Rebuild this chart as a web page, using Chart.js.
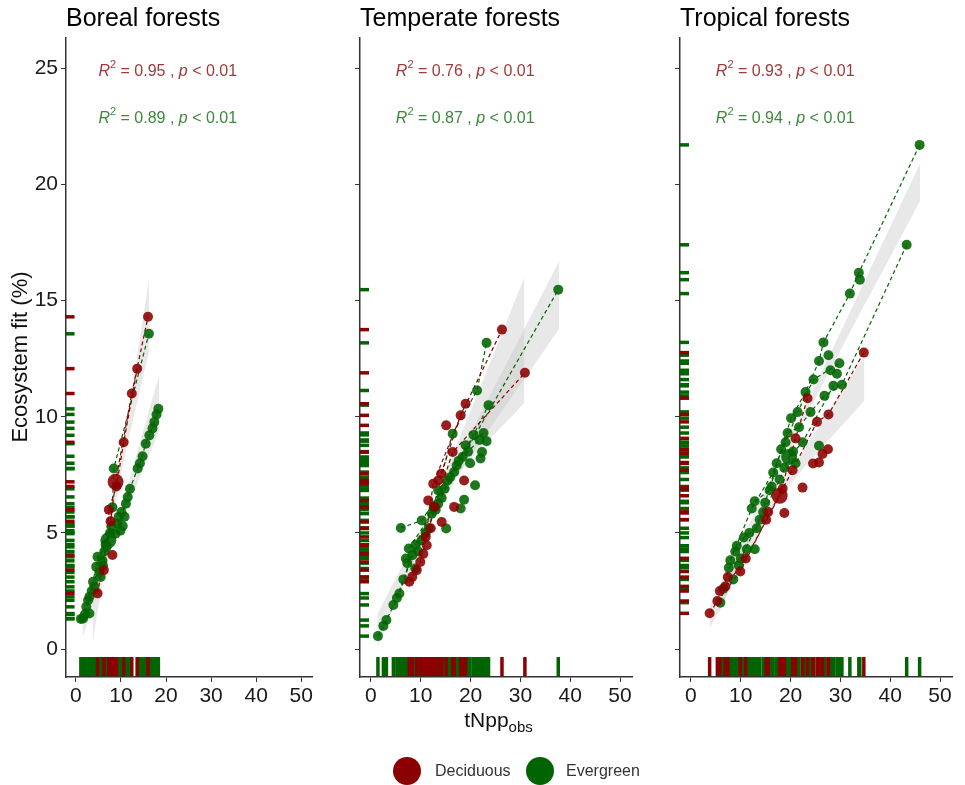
<!DOCTYPE html>
<html>
<head>
<meta charset="utf-8">
<script src="https://cdn.jsdelivr.net/npm/chart.js@4.4.1/dist/chart.umd.min.js"></script>
<style>
body { margin:0; background:#fff; font-family:"Liberation Sans", Arial, sans-serif; }
#wrap { position:relative; width:965px; height:785px; overflow:hidden; background:#fff; }
canvas { position:absolute; top:0; }
.title { position:absolute; top:5px; font-size:25px; line-height:25px; color:#000; white-space:nowrap; }
.ytitle { position:absolute; left:-105px; top:345px; width:250px; height:24px; line-height:24px; font-size:22px;
  text-align:center; transform:rotate(-90deg); color:#111; white-space:nowrap; }
.xtitle { position:absolute; left:360px; top:709px; width:277px; text-align:center; font-size:21px; line-height:21px; color:#111; }
.xtitle sub { font-size:15px; vertical-align:-5px; line-height:0; }
.dot { position:absolute; width:28px; height:28px; border-radius:50%; top:757px; }
.leg { position:absolute; top:762px; font-size:16px; line-height:18px; color:#333; }
</style>
</head>
<body>
<div id="wrap">
  <canvas id="c1" width="325" height="710" style="left:0px"></canvas>
  <canvas id="c2" width="315" height="710" style="left:330px"></canvas>
  <canvas id="c3" width="315" height="710" style="left:650px"></canvas>
  <div class="title" style="left:66px">Boreal forests</div>
  <div class="title" style="left:360px">Temperate forests</div>
  <div class="title" style="left:680px">Tropical forests</div>
  <div class="ytitle">Ecosystem fit (%)</div>
  <div class="xtitle">tNpp<sub>obs</sub></div>
  <div class="dot" style="left:393px;background:#8B0000"></div>
  <div class="leg" style="left:435px">Deciduous</div>
  <div class="dot" style="left:526px;background:#006400"></div>
  <div class="leg" style="left:566px">Evergreen</div>
</div>
<script>
// axis ticks
const xTicks = [0, 10, 20, 30, 40, 50];
const yTicks = [0, 5, 10, 15, 20, 25];

// Boreal forests
const borealDecX = [4.8, 6.2, 7.3, 7.7, 8.1, 8.8, 9.0, 10.6, 12.4, 13.6, 16.0];
const borealDecY = [2.4, 3.4, 6.0, 5.5, 4.05, 7.2, 7.0, 8.9, 11.0, 12.07, 14.3];
const borealDecSite = [1, 2, 2, 1, 0, 1, 2, 2, 1, 2, 1];
const borealDecBig = [5];
const borealEvgX = [1.6, 2.0, 2.3, 2.7, 3.0, 3.0, 3.5, 4.1, 4.5, 4.8, 5.2, 5.5, 5.9, 6.3, 6.8, 7.2, 7.6, 8.1, 8.4, 8.8, 9.2, 9.5, 9.9, 10.4, 11.1, 11.5, 12.0, 13.7, 15.5, 16.2, 16.3, 17.4, 18.3,
  1.1, 3.8, 6.0, 6.6, 7.9, 10.1, 10.8, 14.2, 14.8, 17.0, 17.9];
const borealEvgY = [1.32, 1.5, 1.82, 2.1, 2.25, 1.53, 2.5, 2.68, 3.54, 3.97, 3.3, 3.1, 3.8, 4.2, 4.4, 4.68, 5.0, 6.1, 7.77, 4.97, 5.4, 5.69, 5.1, 5.3, 6.26, 6.55, 6.9, 7.77, 8.84, 13.57, 9.2, 9.77, 10.34,
  1.3, 2.9, 3.6, 4.5, 5.3, 5.9, 5.7, 8.0, 8.3, 9.5, 10.1];
const borealEvgSite = [1, 0, 2, 0, 1, 0, 0, 2, 1, 2, 0, 0, 1, 0, 2, 1, 0, 2, 2, 0, 1, 0, 0, 0, 1, 0, 1, 1, 1, 2, 1, 1, 1,
  2, 0, 0, 0, 1, 0, 0, 1, 0, 0, 0];
const borealEvgBig = [15];
const borealDecBand = { x: [3.8, 10, 16.2], lo: [0.4, 7.5, 12.8], hi: [2.8, 8.3, 15.9] };
const borealEvgBand = { x: [1.5, 9, 18.5], lo: [0.5, 4.9, 9.4], hi: [1.7, 5.5, 11.8] };
const borealR2 = ['0.95', '0.89'];

// Temperate forests
const tempDecX = [7.7, 8.3, 9.2, 9.9, 10.5, 11.0, 11.2, 11.5, 12.0, 12.5, 12.8, 13.5, 14.1, 14.2, 15.1, 16.4, 16.7, 18.0, 18.7, 19.0, 26.3, 30.9];
const tempDecY = [2.9, 3.11, 3.4, 3.75, 4.1, 4.83, 4.47, 6.4, 5.2, 7.12, 6.12, 7.26, 7.55, 5.47, 9.63, 8.48, 6.12, 10.06, 7.26, 10.56, 13.75, 11.89];
const tempDecSite = [1, 0, 0, 1, 0, 2, 0, 0, 0, 2, 1, 0, 3, 0, 0, 1, 0, 3, 0, 2, 3, 1];
const tempDecBig = [];
const tempEvgX = [1.4, 2.5, 3.1, 4.5, 5.7, 6.0, 7.0, 7.6, 8.3, 8.9, 9.5, 10.2, 10.2, 11.0, 12.2, 13.0, 13.5, 13.5, 14.2, 15.1, 15.4, 16.4, 16.7, 17.2, 18.0, 18.4, 18.7, 19.0, 19.5, 20.6, 20.9, 21.3, 22.3, 22.6, 23.2, 23.2, 23.6, 37.6,
  5.2, 6.5, 7.3, 9.0, 11.6, 12.6, 14.8, 15.9, 17.6, 19.9, 21.8, 22.0];
const tempEvgY = [0.56, 1.0, 1.25, 1.9, 2.39, 5.21, 3.9, 4.33, 4.04, 3.47, 4.2, 5.54, 4.68, 5.0, 5.83, 6.0, 6.26, 6.83, 6.5, 5.19, 7.26, 9.27, 7.62, 7.9, 6.05, 8.27, 6.43, 8.77, 8.5, 9.22, 7.05, 11.13, 8.48, 9.3, 13.18, 8.95, 10.5, 15.47,
  2.2, 3.0, 3.7, 4.5, 5.2, 6.1, 6.9, 7.4, 8.1, 8.0, 9.0, 8.2];
const tempEvgSite = [1, 0, 1, 0, 1, 2, 0, 3, 1, 0, 0, 2, 1, 0, 3, 0, 1, 4, 0, 0, 2, 3, 1, 4, 0, 1, 0, 4, 0, 2, 0, 3, 0, 4, 3, 0, 2, 1,
  5, 5, 0, 5, 0, 5, 5, 0, 5, 0, 5, 0];
const tempEvgBig = [];
const tempDecBand = { x: [7.5, 15, 30.8], lo: [2.6, 6.8, 10.6], hi: [3.9, 7.6, 16.0] };
const tempEvgBand = { x: [1.3, 14, 37.8], lo: [0.1, 6.2, 13.8], hi: [1.5, 6.8, 16.7] };
const tempR2 = ['0.76', '0.87'];

// Tropical forests
const tropDecX = [3.75, 5.3, 5.8, 6.9, 7.4, 9.9, 11.0, 15.1, 15.5, 17.8, 18.4, 18.75, 20.4, 21.0, 22.4, 23.4, 24.5, 25.3, 25.7, 26.4, 27.5, 27.6, 34.7];
const tropDecY = [1.54, 2.07, 2.5, 2.7, 3.1, 3.34, 3.9, 5.57, 5.9, 6.6, 6.9, 5.86, 7.7, 9.07, 6.95, 10.8, 7.99, 9.78, 8.03, 8.4, 8.6, 10.1, 12.76];
const tropDecSite = [1, 1, 0, 2, 0, 1, 2, 1, 0, 2, 0, 0, 1, 2, 0, 2, 0, 1, 0, 0, 0, 1, 1];
const tropDecBig = [9];
const tropEvgX = [5.9, 6.5, 7.6, 7.9, 8.5, 9.2, 10.0, 11.2, 12.2, 12.8, 12.8, 13.8, 14.5, 15.8, 16.5, 17.8, 18.1, 18.75, 19.4, 19.7, 20.1, 21.0, 21.7, 22.4, 23.0, 24.0, 25.7, 25.7, 26.6, 26.8, 27.6, 28.6, 29.3, 30.3, 31.9, 33.7, 33.9, 43.3, 45.9,
  8.9, 9.6, 10.6, 11.7, 13.2, 14.9, 16.2, 17.2, 19.0, 20.5, 21.4, 24.6, 28.0, 29.8];
const tropEvgY = [2.0, 2.6, 3.5, 3.82, 3.0, 4.45, 3.9, 4.3, 6.05, 6.36, 4.3, 5.57, 5.9, 6.84, 7.6, 7.3, 8.6, 7.8, 9.3, 8.27, 9.94, 8.0, 9.55, 8.9, 11.06, 10.2, 12.4, 8.75, 13.2, 10.9, 12.65, 11.33, 11.85, 11.38, 15.3, 16.2, 15.9, 17.4, 21.7,
  4.2, 3.6, 4.8, 5.0, 5.2, 6.3, 7.0, 8.0, 8.9, 8.5, 10.2, 11.6, 12.0, 12.3];
const tropEvgSite = [1, 0, 1, 2, 0, 0, 1, 0, 2, 3, 0, 1, 0, 3, 2, 1, 3, 0, 2, 1, 3, 0, 2, 1, 3, 2, 3, 0, 3, 2, 0, 1, 0, 2, 3, 3, 0, 2, 3,
  4, 0, 4, 0, 4, 4, 0, 4, 4, 0, 4, 4, 0, 4];
const tropEvgBig = [19];
const tropDecBand = { x: [3.8, 18, 34.8], lo: [0.9, 6.5, 10.7], hi: [1.9, 7.0, 12.6] };
const tropEvgBand = { x: [5.5, 22, 46], lo: [1.5, 9.5, 19.3], hi: [2.6, 10.0, 20.9] };
const tropR2 = ['0.93', '0.94'];

const pText = '< 0.01';

const FONT = '"Liberation Sans", Arial, sans-serif';
const RED = '#8B0000', GREEN = '#006400';
const RED_A = 'rgba(139,0,0,0.88)', GREEN_A = 'rgba(0,100,0,0.88)';
const RUG_X = -1.3, RUG_Y = -0.75;

function pts(xs, ys) { return xs.map((x, i) => ({ x: x, y: ys[i] })); }

// connect the points of one site with a dashed line, a null breaks the line between sites
function chains(xs, ys, site) {
  const out = [];
  const ids = [...new Set(site)].filter(s => s > 0);
  ids.forEach(s => {
    const idx = site.map((v, i) => v === s ? i : -1).filter(i => i >= 0).sort((a, b) => xs[a] - xs[b]);
    idx.forEach(i => out.push({ x: xs[i], y: ys[i] }));
    out.push({ x: xs[idx[idx.length - 1]], y: null });
  });
  return out;
}

function makePanel(id, p) {
  const r2Plugin = {
    id: 'r2' + id,
    afterDatasetsDraw(chart) {
      const { ctx, scales } = chart;
      [[p.r2[0], 24.85, '#a03a3a'], [p.r2[1], 22.82, '#3d883d']].forEach(([r2, yv, col]) => {
        let px = scales.x.getPixelForValue(5);
        const py = scales.y.getPixelForValue(yv);
        ctx.save();
        ctx.fillStyle = col;
        ctx.textBaseline = 'middle';
        const parts = [['R', 'italic 16px ' + FONT, 0], ['2', '11px ' + FONT, -7],
          [' = ' + r2 + ' , ', '16px ' + FONT, 0], ['p', 'italic 16px ' + FONT, 0], [' ' + pText, '16px ' + FONT, 0]];
        parts.forEach(([t, f, dy]) => { ctx.font = f; ctx.fillText(t, px, py + dy); px += ctx.measureText(t).width; });
        ctx.restore();
      });
    }
  };

  const pointDs = (xs, ys, big, col) => ({
    type: 'scatter', data: pts(xs, ys), order: 0,
    backgroundColor: col, borderWidth: 0,
    pointRadius: c => big.includes(c.dataIndex) ? 8 : 5, pointHoverRadius: 0
  });
  const linkDs = (xs, ys, site, col) => ({
    type: 'line', data: chains(xs, ys, site), order: 1, borderColor: col, borderWidth: 1.2,
    borderDash: [4, 3], pointRadius: 0, fill: false, spanGaps: false, tension: 0
  });
  const rugDs = (data, rot, r, col, ord) => ({
    type: 'scatter', data: data, order: ord, pointStyle: 'line', rotation: rot, pointRadius: r,
    borderColor: col, borderWidth: 3.5, clip: false, pointHoverRadius: 0
  });
  const bandDs = (b, key, fill) => ({
    type: 'line', data: pts(b.x, b[key]), order: 5, borderWidth: 0, pointRadius: 0,
    fill: fill, backgroundColor: 'rgba(200,200,200,0.42)', tension: 0.3
  });

  const datasets = [
    pointDs(p.decX, p.decY, p.decBig, RED_A),
    pointDs(p.evgX, p.evgY, p.evgBig, GREEN_A),
    linkDs(p.decX, p.decY, p.decSite, RED),
    linkDs(p.evgX, p.evgY, p.evgSite, GREEN),
    rugDs(p.decY.map(y => ({ x: RUG_X, y: y })), 0, 4.5, RED, 2),
    rugDs(p.decX.map(x => ({ x: x, y: RUG_Y })), 90, 9.5, RED, 2),
    rugDs(p.evgY.map(y => ({ x: RUG_X, y: y })), 0, 4.5, GREEN, 3),
    rugDs(p.evgX.map(x => ({ x: x, y: RUG_Y })), 90, 9.5, GREEN, 3),
    bandDs(p.decBand, 'lo', false),
    bandDs(p.decBand, 'hi', '-1'),
    bandDs(p.evgBand, 'lo', false),
    bandDs(p.evgBand, 'hi', '-1')
  ];

  new Chart(document.getElementById(id), {
    type: 'scatter',
    data: { datasets: datasets },
    plugins: [r2Plugin],
    options: {
      responsive: false,
      animation: false,
      devicePixelRatio: 1,
      layout: { padding: { left: 0, right: p.padRight, top: 38, bottom: 0 } },
      plugins: { legend: { display: false }, tooltip: { enabled: false } },
      scales: {
        x: {
          type: 'linear', min: -2.2, max: 52.4,
          afterBuildTicks: s => { s.ticks = xTicks.map(v => ({ value: v })); },
          afterFit: s => { s.height = 33; },
          ticks: { autoSkip: false, maxRotation: 0, padding: 2, color: '#1a1a1a', font: { size: 21, family: FONT } },
          grid: { drawOnChartArea: false, drawTicks: true, tickLength: 5, color: '#333' },
          border: { color: '#333', width: 1.5 }
        },
        y: {
          type: 'linear', min: -1.2, max: 26.3,
          afterBuildTicks: s => { s.ticks = yTicks.map(v => ({ value: v })); },
          afterFit: s => { s.width = p.yWidth; },
          ticks: { padding: 3, color: p.showY ? '#1a1a1a' : 'rgba(0,0,0,0)', font: { size: 21, family: FONT } },
          grid: { drawOnChartArea: false, drawTicks: true, tickLength: 5, color: '#333' },
          border: { color: '#333', width: 1.5 }
        }
      }
    }
  });
}

makePanel('c1', {
  decX: borealDecX, decY: borealDecY, decSite: borealDecSite, decBig: borealDecBig,
  evgX: borealEvgX, evgY: borealEvgY, evgSite: borealEvgSite, evgBig: borealEvgBig,
  decBand: borealDecBand, evgBand: borealEvgBand, r2: borealR2,
  showY: true, yWidth: 66, padRight: 7
});
makePanel('c2', {
  decX: tempDecX, decY: tempDecY, decSite: tempDecSite, decBig: tempDecBig,
  evgX: tempEvgX, evgY: tempEvgY, evgSite: tempEvgSite, evgBig: tempEvgBig,
  decBand: tempDecBand, evgBand: tempEvgBand, r2: tempR2,
  showY: false, yWidth: 30, padRight: 8
});
makePanel('c3', {
  decX: tropDecX, decY: tropDecY, decSite: tropDecSite, decBig: tropDecBig,
  evgX: tropEvgX, evgY: tropEvgY, evgSite: tropEvgSite, evgBig: tropEvgBig,
  decBand: tropDecBand, evgBand: tropEvgBand, r2: tropR2,
  showY: false, yWidth: 30, padRight: 8
});
</script>
</body>
</html>
